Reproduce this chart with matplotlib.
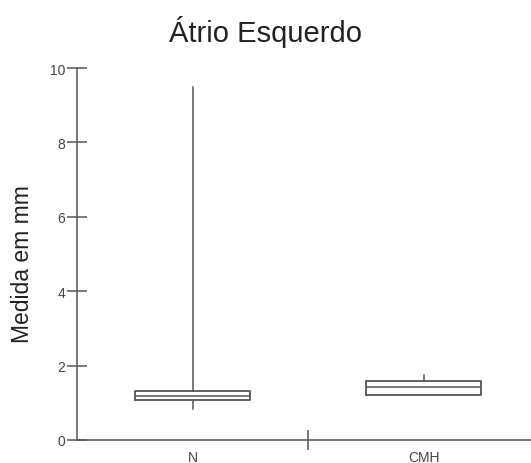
import matplotlib
matplotlib.use('Agg')
import matplotlib.pyplot as plt
from matplotlib.ticker import FixedLocator

plt.rcParams['font.family'] = ['Liberation Sans', 'DejaVu Sans']

# values
groups = ['N', 'CMH']
whisker_low = [0.83, 1.22]
q1 = [1.08, 1.22]
medians = [1.19, 1.43]
q3 = [1.32, 1.59]
whisker_high = [9.49, 1.76]
positions = [0.5, 1.5]

stats = []
for i, g in enumerate(groups):
    stats.append({'label': g, 'whislo': whisker_low[i], 'q1': q1[i], 'med': medians[i],
                  'q3': q3[i], 'whishi': whisker_high[i], 'fliers': []})

fig = plt.figure(figsize=(5.31, 4.64), dpi=100)
ax = fig.add_axes([0.145, 0.0496, 0.855, 0.8016])

line_col = '#555555'
ax.bxp(stats, positions=positions, widths=0.5, showcaps=False,
       boxprops=dict(color=line_col, linewidth=1.3),
       medianprops=dict(color=line_col, linewidth=1.1),
       whiskerprops=dict(color=line_col, linewidth=1.1),
       manage_ticks=False)

ax.set_xlim(0, 1.965)
ax.set_ylim(0, 10)
ax.spines['top'].set_visible(False)
ax.spines['right'].set_visible(False)
ax.spines['left'].set_color(line_col)
ax.spines['bottom'].set_color(line_col)
ax.spines['left'].set_linewidth(1.1)
ax.spines['bottom'].set_linewidth(1.1)

ax.set_yticks([0, 2, 4, 6, 8, 10])
ax.tick_params(axis='y', direction='inout', length=15, width=1.1, color=line_col,
               labelsize=10, labelcolor='#444444', pad=1)

ax.set_xticks([1])
ax.set_xticklabels([''])
ax.xaxis.set_minor_locator(FixedLocator(positions))
ax.set_xticklabels(groups, minor=True)
ax.tick_params(axis='x', which='major', direction='inout', length=15, width=1.1, color=line_col)
ax.tick_params(axis='x', which='minor', length=0, labelsize=10, labelcolor='#444444', pad=7)

ax.set_ylabel('Medida em mm', fontsize=16.5, color='#222222')
ax.yaxis.set_label_coords(-0.095, 0.475)
fig.text(0.5, 0.93, 'Átrio Esquerdo', ha='center', va='center', fontsize=21, color='#222222')

fig.savefig('out.png', dpi=100)
